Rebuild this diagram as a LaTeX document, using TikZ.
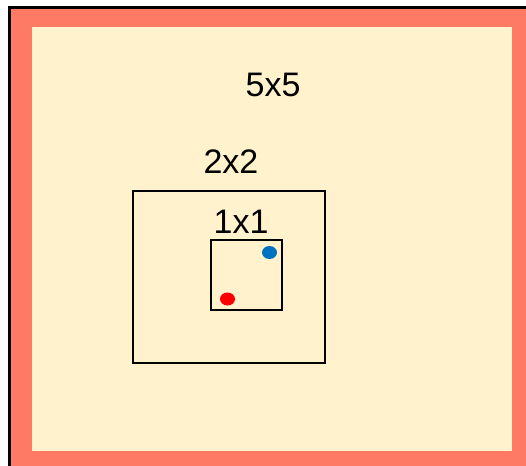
\documentclass[tikz,border=0pt]{standalone}
\usepackage{fontspec}
\setmainfont{Liberation Sans}
\definecolor{salmon}{HTML}{FF7A64}
\definecolor{paper}{HTML}{FFF2CC}
\definecolor{dotblue}{HTML}{0070C0}
\tikzset{
  gridbox/.style={draw=black, line width=2pt},
  sizelabel/.style={font=\fontsize{34}{40}\selectfont, anchor=base, inner sep=0pt},
  cell/.style={ellipse, minimum width=15pt, minimum height=13pt, inner sep=0pt}
}
\usetikzlibrary{shapes.geometric}
\begin{document}
\begin{tikzpicture}[x=1pt, y=-1pt]
  \useasboundingbox (0,0) rectangle (526,465);
  \clip (0,0) rectangle (526,465);
  \fill[white] (0,0) rectangle (526,465);

  % Outer frame and the 5x5 area with its border
  \draw[black, line width=2.5pt] (9.5,470) |- (530,7.5);
  \fill[salmon] (11,9) rectangle (530,470);
  \fill[paper] (31.5,27.5) rectangle (512,451);

  % Nested windows
  \draw[gridbox] (133,191) rectangle (325,363);
  \draw[gridbox] (210.5,240) rectangle (282,310);

  % Window labels
  \node[sizelabel] (big) at (273,97) {5x5};
  \node[sizelabel] (mid) at (231,173) {2x2};
  \node[sizelabel] (small) at (241,233) {1x1};

  % Two cells
  \node[cell, fill=dotblue] (blue) at (269.5,252.5) {};
  \node[cell, fill=red] (red) at (227.5,299) {};
\end{tikzpicture}
\end{document}
